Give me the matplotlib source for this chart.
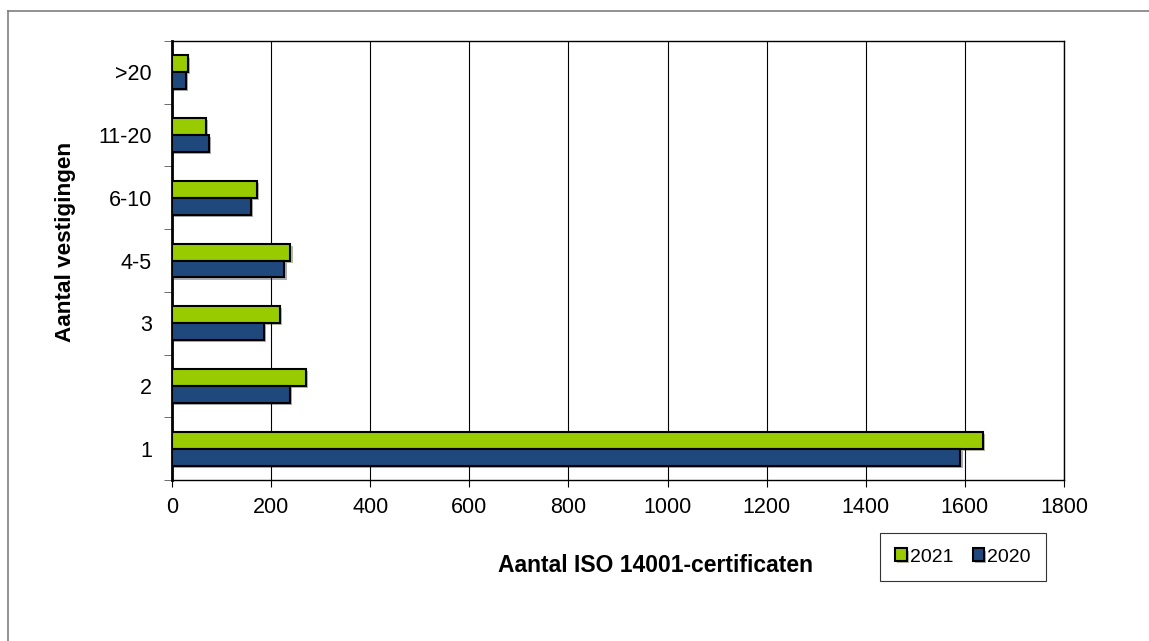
import matplotlib.pyplot as plt
import numpy as np
from matplotlib.lines import Line2D
import matplotlib.patheffects as pe

plt.rcParams['font.family'] = ['Liberation Sans', 'DejaVu Sans']

# categorieën (van onder naar boven)
categories = ['1', '2', '3', '4-5', '6-10', '11-20', '>20']
values_2021 = [1637, 270, 218, 239, 172, 69, 33]
values_2020 = [1591, 238, 185, 227, 160, 74, 28]

fig = plt.figure(figsize=(11.49, 6.41), dpi=100)
ax = fig.add_axes([172 / 1149, 1 - 480 / 641, (1064 - 172) / 1149, (480 - 41) / 641])

# rand links en boven (afbeelding is bijgesneden)
fig.add_artist(Line2D([7.5 / 1149, 7.5 / 1149], [0, 1 - 10.5 / 641], transform=fig.transFigure,
                      color='#7f7f7f', linewidth=1.2))
fig.add_artist(Line2D([7.5 / 1149, 1], [1 - 10.5 / 641, 1 - 10.5 / 641], transform=fig.transFigure,
                      color='#7f7f7f', linewidth=1.2))

y = np.arange(len(categories))
h = 0.27
shadow = [pe.SimplePatchShadow(offset=(1.5, -1.5), alpha=0.35), pe.Normal()]
b1 = ax.barh(y + h / 2, values_2021, height=h, color='#99cc00', edgecolor='black',
             linewidth=1.5, label='2021', zorder=3, path_effects=shadow)
b2 = ax.barh(y - h / 2, values_2020, height=h, color='#1f497d', edgecolor='black',
             linewidth=1.5, label='2020', zorder=3, path_effects=shadow)

ax.set_xlim(0, 1800)
ax.set_ylim(-0.5, len(categories) - 0.5)
ax.set_xticks(range(0, 1801, 200))
ax.set_yticks(y)
ax.set_yticklabels(categories)
ax.set_yticks(np.arange(-0.5, len(categories), 1), minor=True)
ax.tick_params(axis='y', which='major', length=0, labelsize=15.5, pad=14.5)
ax.tick_params(axis='y', which='minor', length=6, color='#555555', direction='out')
ax.tick_params(axis='x', labelsize=15.5, length=5, direction='out', pad=7)

ax.grid(axis='x', color='black', linewidth=0.8, zorder=0)
for s in ax.spines.values():
    s.set_linewidth(1.0)
ax.spines['left'].set_linewidth(2)

fig.text(656 / 1149, 1 - 566 / 641, 'Aantal ISO 14001-certificaten', ha='center',
         va='center', fontsize=16.5, fontweight='bold')
fig.text(65 / 1149, 1 - 242 / 641, 'Aantal vestigingen', ha='center', va='center',
         rotation=90, fontsize=16.2, fontweight='bold')

leg = fig.legend(handles=[b1, b2], loc='center', bbox_to_anchor=(963 / 1149, 1 - 557 / 641),
                 ncol=2, frameon=True, fancybox=False, edgecolor='black', fontsize=14,
                 handlelength=0.6, handleheight=0.6, handletextpad=0.15, columnspacing=1.0,
                 borderpad=0.8)
leg.get_frame().set_linewidth(0.8)

fig.savefig('out.png', dpi=100)
